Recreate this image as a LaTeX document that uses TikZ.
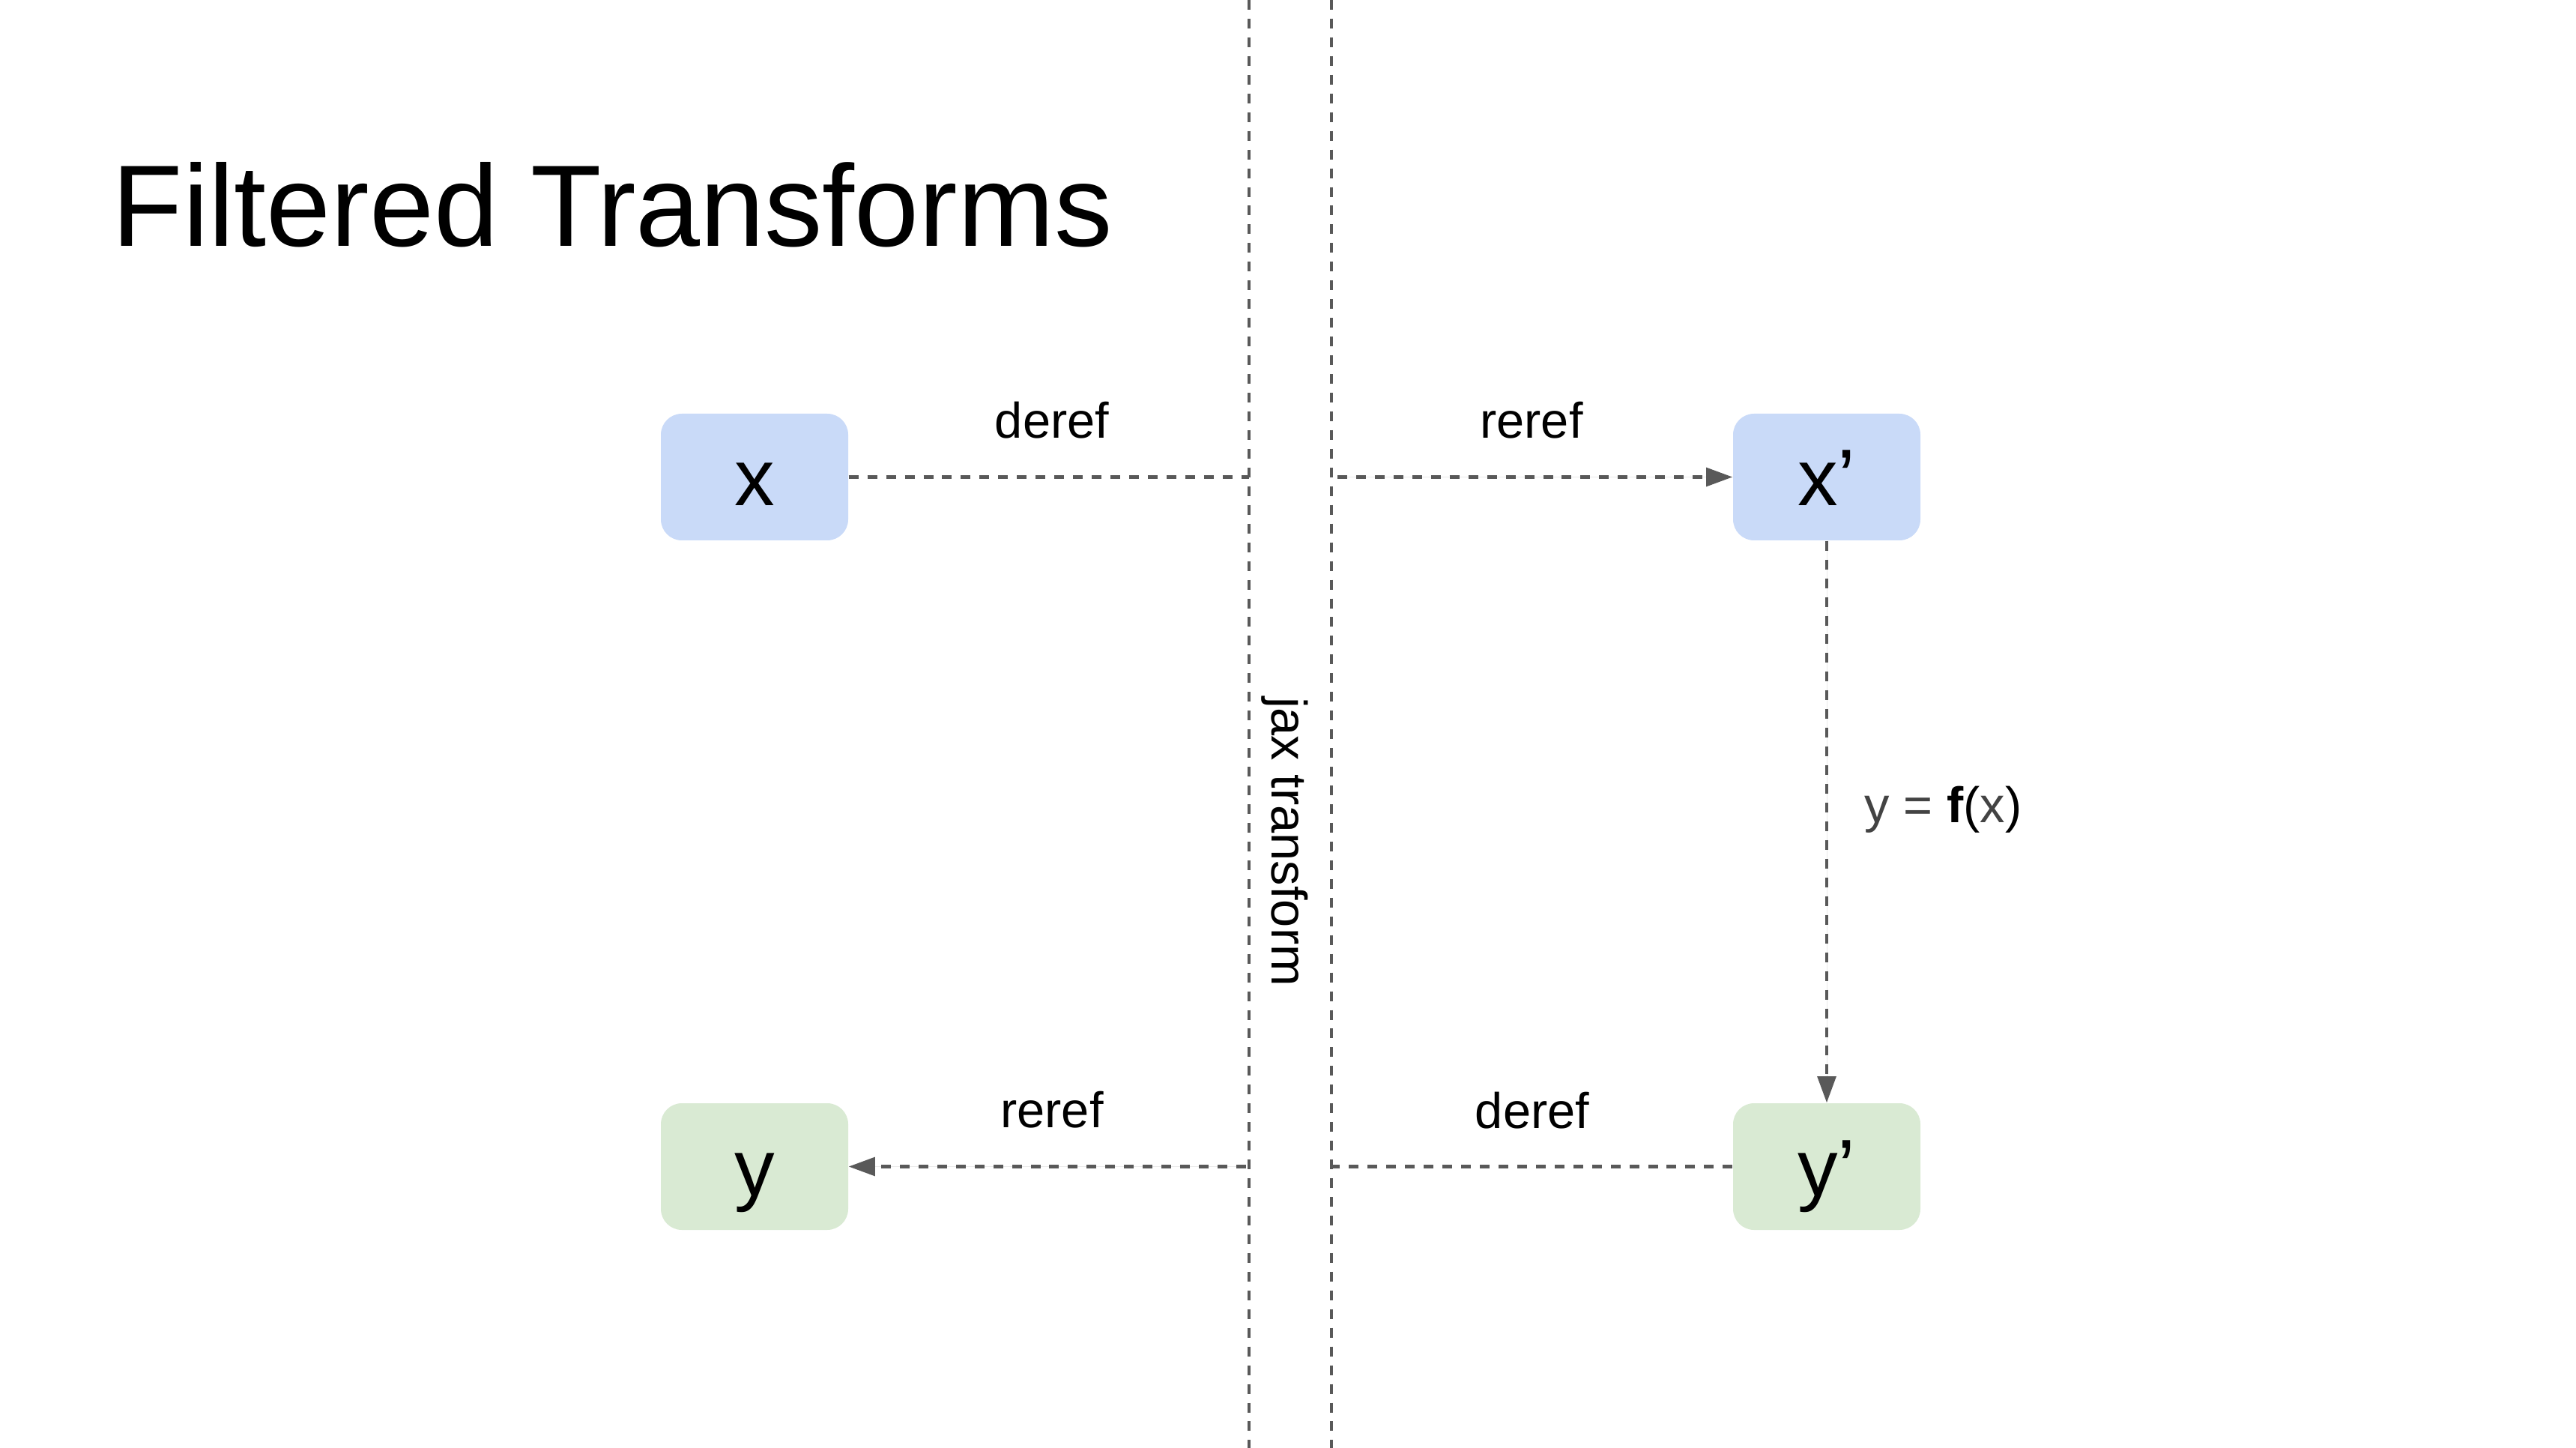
\documentclass[tikz,border=0pt]{standalone}
\usepackage{fontspec}
\setmainfont{Liberation Sans}
\usetikzlibrary{arrows.meta}
\definecolor{linegray}{HTML}{595959}
\definecolor{boxblue}{HTML}{C9DAF8}
\definecolor{boxgreen}{HTML}{D9EAD3}
\definecolor{txtgray}{HTML}{434343}
\begin{document}
\begin{tikzpicture}[
  vbox/.style={rounded corners=0.28cm, minimum width=2.5cm, minimum height=1.69cm,
    inner sep=0pt, text height=1.02cm, text depth=0.25cm,
    font=\fontsize{30.5}{36}\selectfont},
  bluebox/.style={vbox, fill=boxblue},
  greenbox/.style={vbox, fill=boxgreen},
  dline/.style={draw=linegray, line width=1.15pt, dash pattern=on 3.7pt off 3.4pt},
  arr/.style={-{Triangle[length=10pt,width=7pt]}, fill=linegray},
  lbl/.style={anchor=base, inner sep=0pt, font=\fontsize{19}{23}\selectfont}
]
\useasboundingbox (0,0) rectangle (34.38,-19.32);
\fill[white] (0,0) rectangle (34.38,-19.32);

% title
\node[anchor=base west, inner sep=0pt, font=\fontsize{44}{52}\selectfont] (title) at (1.49,-3.29) {Filtered Transforms};

% boxes
\node[bluebox] (x) at (10.07,-6.365) {x};
\node[bluebox] (xp) at (24.38,-6.365) {x’};
\node[greenbox] (y) at (10.07,-15.565) {y};
\node[greenbox] (yp) at (24.38,-15.565) {y’};

% vertical separator lines
\coordinate (v1t) at (16.67,0);
\coordinate (v1b) at (16.67,-19.32);
\coordinate (v2t) at (17.77,0);
\coordinate (v2b) at (17.77,-19.32);
\draw[dline] (v1t) -- (v1b);
\draw[dline] (v2t) -- (v2b);

\node[rotate=-90, lbl] (jax) at (16.97,-11.23) {jax transform};

% line end coordinates
\coordinate (hL1) at (16.67,-6.365);
\coordinate (hR1) at (17.85,-6.365);
\coordinate (hL2) at (16.63,-15.565);
\coordinate (hR2) at (17.78,-15.565);

% connectors
\draw[dline] (x.east) -- (hL1);
\draw[dline, arr] (hR1) -- (xp.west);
\draw[dline, arr] (hL2) -- (y.east);
\draw[dline] (yp.west) -- (hR2);
\draw[dline, arr] (xp.south) -- (yp.north);

% labels
\node[lbl] (l1) at (14.04,-5.85) {deref};
\node[lbl] (l2) at (20.44,-5.85) {reref};
\node[lbl] (l3) at (14.04,-15.04) {reref};
\node[lbl] (l4) at (20.45,-15.05) {deref};
\node[anchor=base west, inner sep=0pt, font=\fontsize{19}{23}\selectfont] (fx) at (24.88,-10.97)
  {\textcolor{txtgray}{y =} \textbf{f}(\textcolor{txtgray}{x})};
\end{tikzpicture}
\end{document}
